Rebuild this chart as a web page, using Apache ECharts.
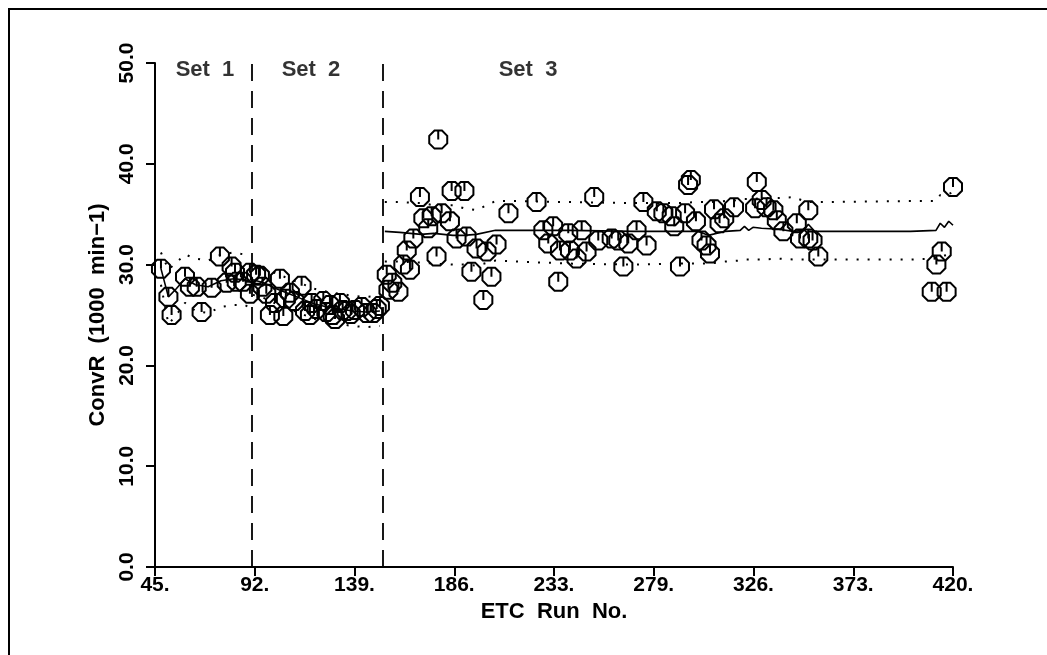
<!DOCTYPE html>
<html>
<head>
<meta charset="utf-8">
<script src="https://cdn.jsdelivr.net/npm/echarts@6/dist/echarts.min.js"></script>
<style>html,body{margin:0;padding:0;background:#fff}#c{width:1047px;height:655px}</style>
</head>
<body>
<div id="c"></div>
<script>
// ---- data ----
const xTicks = [45, 92, 139, 186, 233, 279, 326, 373, 420];
const yTicks = ['0.0', '10.0', '20.0', '30.0', '40.0', '50.0'];
const setNames = ['Set 1', 'Set 2', 'Set 3'];
const setLabelX = [68.5, 118.3, 220.3];
const setLabelY = 49.3;
const setBoundaries = [90.6, 152.1];

const set1Points = [[47.8,29.6],[51.3,26.8],[52.8,25.0],[59.1,28.8],[61.4,27.8],[64.6,27.8],[66.9,25.3],[71.6,27.7],[75.5,30.8],[78.7,28.2],[81.0,29.8],[82.6,29.2],[83.4,28.3],[86.4,28.3],[89.6,29.2],[89.6,27.1]];
const set2Points = [[92.5,29.0],[94.3,28.9],[95.5,27.8],[97.3,27.1],[99.0,25.0],[101.4,26.2],[103.7,28.6],[105.3,24.9],[106.5,26.6],[108.4,27.2],[110.5,26.4],[113.9,27.9],[115.5,25.4],[117.8,25.0],[118.6,26.2],[121.0,25.6],[124.1,26.4],[125.5,25.3],[127.2,26.0],[128.5,25.0],[129.6,24.6],[131.9,26.2],[133.2,25.5],[135.0,25.4],[137.0,25.1],[139.0,25.5],[142.1,25.8],[144.5,25.2],[147.5,25.2],[149.2,25.6],[150.7,25.9]];
const set3Points = [[153.9,29.0],[154.7,27.5],[156.5,28.2],[159.4,27.3],[161.7,30.0],[163.3,31.4],[164.8,29.5],[166.4,32.6],[169.5,36.7],[171.1,34.6],[173.4,33.6],[175.0,34.8],[177.3,30.8],[178.1,42.4],[179.7,35.1],[183.6,34.3],[184.4,37.3],[186.7,32.6],[190.4,37.3],[191.4,32.8],[193.7,29.3],[196.1,31.6],[199.3,26.5],[200.8,31.3],[203.1,28.8],[205.5,32.0],[211.1,35.1],[224.3,36.2],[227.5,33.4],[229.8,32.1],[232.1,33.8],[234.5,28.3],[235.3,31.4],[239.2,33.1],[240.0,31.4],[243.1,30.6],[245.5,33.4],[247.8,31.3],[251.4,36.7],[253.3,32.4],[259.6,32.6],[262.7,32.4],[265.1,29.8],[267.4,32.1],[271.3,33.4],[274.5,36.2],[276.0,31.9],[280.8,35.3],[283.9,35.1],[287.8,34.8],[289.0,33.8],[291.7,29.8],[294.1,35.1],[295.5,37.9],[296.8,38.4],[299.2,34.3],[301.8,32.4],[304.2,31.9],[305.8,31.1],[307.7,35.5],[310.3,34.1],[312.5,34.6],[317.1,35.7],[327.0,35.6],[327.8,38.2],[330.1,36.4],[332.4,35.7],[335.6,35.4],[337.2,34.4],[340.3,33.3],[346.6,34.1],[348.1,32.6],[352.0,35.4],[352.0,32.6],[354.0,32.4],[356.7,30.8],[410.0,27.3],[412.2,30.0],[414.7,31.3],[417.0,27.3],[420.0,37.7]];

const set1LineX = [47.8, 51.3, 55.0, 59.1, 64.0, 70.0, 76.0, 82.0, 87.0, 90.0];
const set1Mean  = [29.6, 26.8, 27.6, 28.6, 28.0, 27.8, 28.4, 28.6, 28.5, 28.3];
const set1Upper = [31.2, 29.5, 30.2, 31.0, 30.6, 30.4, 31.0, 31.2, 31.0, 30.9];
const set1Lower = [28.0, 24.1, 25.0, 26.2, 25.4, 25.2, 25.8, 26.0, 26.0, 25.7];

const set2LineX = [91.0, 96.0, 102.0, 108.0, 114.0, 120.0, 126.0, 132.0, 138.0, 144.0, 150.7];
const set2Mean  = [28.5, 28.2, 27.6, 27.1, 26.6, 26.1, 25.8, 25.6, 25.4, 25.3, 25.4];
const set2Upper = [30.0, 29.7, 29.1, 28.6, 28.1, 27.6, 27.3, 27.1, 26.9, 26.8, 26.9];
const set2Lower = [27.0, 26.7, 26.1, 25.6, 25.1, 24.6, 24.3, 24.1, 23.9, 23.8, 23.9];

const set3LineX = [153.0, 160.0, 170.0, 176.0, 185.0, 190.0, 196.0, 205.0, 215.0, 240.0, 270.0, 290.0, 300.0, 305.0, 313.0, 320.0, 322.0, 324.0, 326.0, 330.0, 338.0, 345.0, 350.0, 352.0, 355.0, 400.0, 412.0, 414.0, 416.0, 418.0, 420.0];
const set3Mean  = [33.3, 33.2, 33.0, 33.1, 32.9, 32.9, 33.0, 33.4, 33.4, 33.4, 33.3, 33.3, 33.3, 32.9, 33.3, 33.4, 33.8, 33.4, 33.7, 33.6, 33.5, 33.3, 33.4, 34.0, 33.3, 33.3, 33.4, 34.1, 33.7, 34.3, 33.9];
const set3Upper = [36.2, 36.2, 36.1, 35.9, 35.9, 35.6, 35.4, 36.3, 36.3, 36.2, 36.1, 36.1, 36.2, 36.2, 36.3, 36.4, 36.5, 36.5, 36.5, 36.6, 36.6, 36.7, 36.3, 36.2, 36.2, 36.3, 36.3, 36.9, 36.9, 37.0, 37.2];
const set3Lower = [30.3, 30.3, 30.2, 30.1, 30.0, 30.0, 29.9, 30.4, 30.3, 30.1, 30.0, 30.1, 30.1, 30.1, 30.3, 30.4, 30.5, 30.5, 30.5, 30.5, 30.6, 30.5, 30.5, 30.5, 30.5, 30.5, 30.6, 30.8, 30.9, 31.0, 31.0];

// ---- chart ----
const FONT = 'Liberation Sans';
const r = 10, c = 0.9239 * r, s = 0.3827 * r;
const octo = 'path://M' + (10 + c) + ',' + (10 - s) + 'L' + (10 + c) + ',' + (10 + s) + 'L' + (10 + s) + ',' + (10 + c) + 'L' + (10 - s) + ',' + (10 + c) +
  'L' + (10 - c) + ',' + (10 + s) + 'L' + (10 - c) + ',' + (10 - s) + 'L' + (10 - s) + ',' + (10 - c) + 'L' + (10 + s) + ',' + (10 - c) + 'Z' +
  'M10,' + (10 - c) + 'L10,10';

function zip(xs, ys) { return xs.map((x, i) => [x, ys[i]]); }
function scatter(pts) {
  return { type: 'scatter', data: pts, symbol: octo, symbolSize: 18, z: 3,
    itemStyle: { color: 'rgba(0,0,0,0)', borderColor: '#000', borderWidth: 2, opacity: 1 },
    emphasis: { disabled: true } };
}
function solid(xs, ys) {
  return { type: 'line', data: zip(xs, ys), showSymbol: false, symbol: 'none', z: 4,
    lineStyle: { color: '#000', width: 1.6 } };
}
function dotted(xs, ys) {
  return { type: 'line', data: zip(xs, ys), showSymbol: false, symbol: 'none', z: 4,
    lineStyle: { color: '#000', width: 2, type: [2, 9] } };
}

const xMin = xTicks[0], xMax = xTicks[xTicks.length - 1];
const chart = echarts.init(document.getElementById('c'), null, { renderer: 'canvas' });
chart.setOption({
  animation: false,
  backgroundColor: '#fff',
  grid: { left: 155, right: 94, top: 63, bottom: 88, containLabel: false },
  graphic: [
    { type: 'line', shape: { x1: 8, y1: 9, x2: 1047, y2: 9 }, style: { stroke: '#000', lineWidth: 2 } },
    { type: 'line', shape: { x1: 9, y1: 8, x2: 9, y2: 655 }, style: { stroke: '#000', lineWidth: 2 } }
  ],
  xAxis: {
    type: 'value', min: xMin, max: xMax, interval: (xMax - xMin) / (xTicks.length - 1),
    name: 'ETC  Run  No.', nameLocation: 'middle', nameGap: 29,
    nameTextStyle: { fontFamily: FONT, fontWeight: 'bold', fontSize: 22, color: '#000' },
    axisLine: { show: true, onZero: false, lineStyle: { color: '#000', width: 2 } },
    axisTick: { show: true, length: 9, lineStyle: { color: '#000', width: 2 } },
    axisLabel: { margin: 8, fontFamily: FONT, fontWeight: 'bold', fontSize: 21, color: '#000',
      formatter: (v, i) => xTicks[i] + '.' },
    splitLine: { show: false }
  },
  yAxis: {
    type: 'value', min: 0, max: 50, interval: 10,
    name: 'ConvR  (1000  min\u22121)', nameLocation: 'middle', nameGap: 42, nameRotate: 90,
    nameTextStyle: { fontFamily: FONT, fontWeight: 'bold', fontSize: 22, color: '#000' },
    axisLine: { show: true, onZero: false, lineStyle: { color: '#000', width: 2 } },
    axisTick: { show: true, length: 9, lineStyle: { color: '#000', width: 2 } },
    axisLabel: { margin: 17, rotate: 90, fontFamily: FONT, fontWeight: 'bold', fontSize: 21, color: '#000',
      formatter: (v, i) => yTicks[i] },
    splitLine: { show: false }
  },
  series: [
    scatter(set1Points), scatter(set2Points), scatter(set3Points),
    solid(set1LineX, set1Mean), dotted(set1LineX, set1Upper), dotted(set1LineX, set1Lower),
    solid(set2LineX, set2Mean), dotted(set2LineX, set2Upper), dotted(set2LineX, set2Lower),
    solid(set3LineX, set3Mean), dotted(set3LineX, set3Upper), dotted(set3LineX, set3Lower),
    { type: 'scatter', symbolSize: 0, silent: true, z: 5,
      data: setLabelX.map((x, i) => ({ value: [x, setLabelY], name: setNames[i] })),
      label: { show: true, position: 'inside', formatter: p => p.name.replace(' ', '  '),
        fontFamily: FONT, fontWeight: 'bold', fontSize: 22, color: '#000' } },
    { type: 'line', data: [], z: 2, silent: true,
      markLine: { silent: true, symbol: ['none', 'none'], label: { show: false },
        lineStyle: { color: '#000', width: 1.8, type: [17, 10] },
        data: setBoundaries.map(b => ({ xAxis: b })) } }
  ]
});
</script>
</body>
</html>
